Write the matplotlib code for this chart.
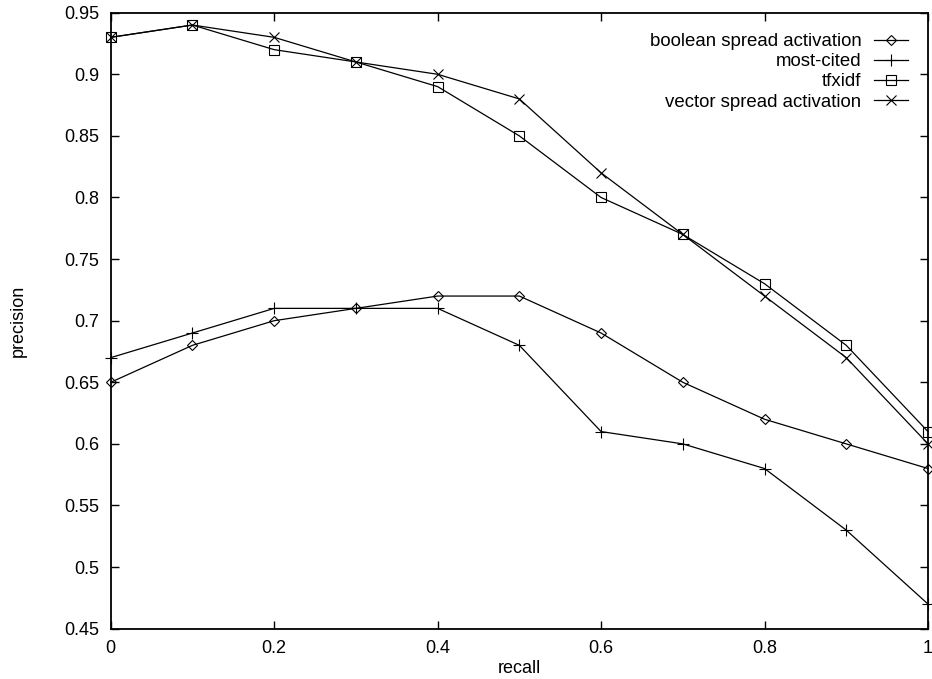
import matplotlib
matplotlib.use("Agg")
import matplotlib.pyplot as plt

plt.rcParams['font.family'] = ['Liberation Sans', 'DejaVu Sans']

recall = [0.0, 0.1, 0.2, 0.3, 0.4, 0.5, 0.6, 0.7, 0.8, 0.9, 1.0]
boolean_spread = [0.65, 0.68, 0.70, 0.71, 0.72, 0.72, 0.69, 0.65, 0.62, 0.60, 0.58]
most_cited = [0.67, 0.69, 0.71, 0.71, 0.71, 0.68, 0.61, 0.60, 0.58, 0.53, 0.47]
tfxidf = [0.93, 0.94, 0.92, 0.91, 0.89, 0.85, 0.80, 0.77, 0.73, 0.68, 0.61]
vector_spread = [0.93, 0.94, 0.93, 0.91, 0.90, 0.88, 0.82, 0.77, 0.72, 0.67, 0.60]

series_labels = ["boolean spread activation", "most-cited", "tfxidf", "vector spread activation"]
x_ticks = [0, 0.2, 0.4, 0.6, 0.8, 1]
x_tick_labels = ["0", "0.2", "0.4", "0.6", "0.8", "1"]
y_ticks = [0.45, 0.5, 0.55, 0.6, 0.65, 0.7, 0.75, 0.8, 0.85, 0.9, 0.95]
y_tick_labels = ["0.45", "0.5", "0.55", "0.6", "0.65", "0.7", "0.75", "0.8", "0.85", "0.9", "0.95"]

fig = plt.figure(figsize=(9.32, 6.79), dpi=100)
ax = fig.add_axes([0.1188, 0.0741, 0.9957 - 0.1188, 0.9813 - 0.0741])

styles = [
    dict(marker="D", markersize=5.0),
    dict(marker="+", markersize=8.0),
    dict(marker="s", markersize=6.5),
    dict(marker="x", markersize=6.5),
]
for ys, lab, st in zip([boolean_spread, most_cited, tfxidf, vector_spread], series_labels, styles):
    ax.plot(recall, ys, color="black", linewidth=0.9, label=lab,
            markerfacecolor="none", markeredgecolor="black", markeredgewidth=0.8,
            clip_on=False, **st)

ax.set_xlim(0, 1)
ax.set_ylim(0.45, 0.95)
ax.set_xticks(x_ticks)
ax.set_xticklabels(x_tick_labels)
ax.set_yticks(y_ticks)
ax.set_yticklabels(y_tick_labels)
ax.tick_params(direction="in", length=6, width=1.0, top=True, right=True,
               labelsize=13, pad=8, color="black")
for sp in ax.spines.values():
    sp.set_linewidth(1.3)

ax.set_xlabel("recall", fontsize=13, labelpad=2)
ax.set_ylabel("precision", fontsize=13, labelpad=27)

leg = ax.legend(loc="upper right", bbox_to_anchor=(0.9755, 0.967), frameon=False,
                markerfirst=False, alignment="right", numpoints=1, fontsize=13.4,
                handlelength=1.8, handletextpad=0.7, labelspacing=0.17,
                borderpad=0, borderaxespad=0)

fig.savefig("out.png", dpi=100)
